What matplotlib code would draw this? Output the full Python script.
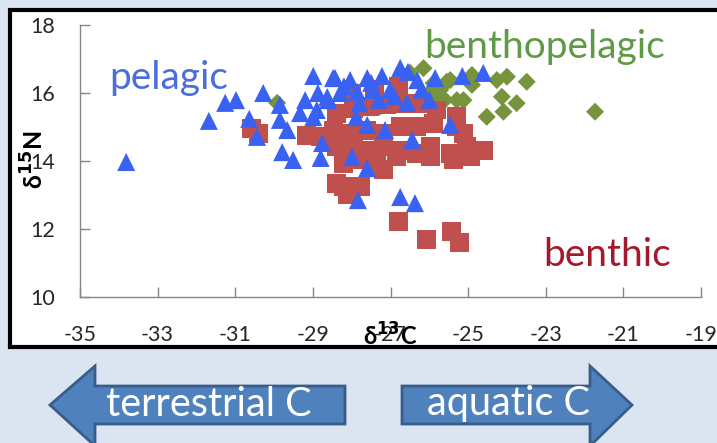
"""Stable isotope biplot: d13C vs d15N for pelagic, benthic and benthopelagic fish."""

import matplotlib

matplotlib.use("Agg")
import matplotlib.pyplot as plt
from matplotlib.patches import Polygon, Rectangle

W, H = 717, 443

# pelagic (blue triangles)
PELAGIC_X = [-33.81, -31.68, -31.26, -30.98, -30.28, -30.64, -30.44, -29.85, -29.85, -29.66,
             -29.79, -29.51, -28.99, -28.48, -29.20, -28.87, -28.61, -29.33, -28.99, -28.76,
             -28.80, -28.43, -28.04, -27.60, -27.22, -26.75, -26.55, -26.31, -25.85, -25.15,
             -24.61, -28.63, -28.30, -27.86, -27.45, -27.01, -26.57, -27.88, -27.60, -27.14,
             -26.44, -25.46, -27.99, -27.60, -27.84, -26.75, -26.37, -28.20, -27.80, -27.30,
             -26.90, -27.50, -28.90, -26.20, -26.00]
PELAGIC_Y = [13.97, 15.18, 15.71, 15.79, 16.00, 15.24, 14.71, 15.65, 15.21, 14.91,
             14.26, 14.03, 16.50, 16.44, 15.79, 16.00, 15.79, 15.41, 15.29, 14.53,
             14.09, 16.44, 16.38, 16.44, 16.50, 16.74, 16.62, 16.38, 16.44, 16.50,
             16.59, 15.88, 16.00, 16.03, 16.09, 16.09, 15.71, 15.29, 15.06, 14.91,
             14.62, 15.06, 14.12, 13.79, 12.85, 12.94, 12.76, 16.20, 15.70, 15.80,
             15.90, 16.30, 15.50, 16.10, 15.80]

# benthic (red squares)
BENTHIC_X = [-30.57, -30.40, -29.16, -28.81, -28.38, -28.38, -27.96, -27.53, -27.10, -26.67,
             -26.24, -25.81, -25.29, -28.47, -28.04, -27.61, -27.18, -26.75, -26.32, -25.89,
             -25.29, -28.38, -27.96, -27.53, -27.18, -26.75, -26.32, -25.98, -25.46, -25.03,
             -24.61, -28.21, -27.78, -27.35, -27.18, -26.84, -25.98, -25.38, -24.95, -25.12,
             -28.21, -27.78, -28.10, -26.80, -26.06, -25.42, -25.22, -28.00, -27.40, -26.80]
BENTHIC_Y = [14.96, 14.81, 14.76, 14.71, 13.35, 15.40, 15.55, 15.60, 15.65, 15.70,
             15.70, 15.50, 15.30, 14.91, 14.81, 14.91, 14.81, 15.01, 15.01, 15.11,
             15.01, 14.42, 14.42, 14.32, 14.42, 14.32, 14.23, 14.13, 14.23, 14.42,
             14.32, 13.93, 14.03, 13.93, 13.74, 14.13, 14.42, 14.03, 14.13, 14.81,
             13.24, 13.24, 13.00, 12.21, 11.68, 11.92, 11.60, 16.00, 16.10, 16.20]

# benthopelagic (green diamonds)
BENTHOPELAGIC_X = [-26.15, -25.46, -24.90, -24.26, -24.00, -23.49, -24.13, -23.75, -24.52, -24.09,
                   -25.29, -25.12, -25.81, -25.89, -24.90, -21.73, -25.72, -25.55, -26.84, -27.27,
                   -29.92, -26.50, -26.00, -25.60]
BENTHOPELAGIC_Y = [16.73, 16.38, 16.53, 16.38, 16.48, 16.33, 15.89, 15.70, 15.30, 15.45,
                   15.79, 15.79, 15.89, 16.29, 16.24, 15.45, 16.09, 16.33, 16.33, 15.60,
                   15.71, 16.60, 16.00, 15.80]

X_TICKS = [-35, -33, -31, -29, -27, -25, -23, -21, -19]
Y_TICKS = [10, 12, 14, 16, 18]

BLUE = "#3a62f2"
RED = "#c0504d"
GREEN = "#77933c"
BG = "#dbe5f1"
FONT = ["Lato", "DejaVu Sans"]


def fx(px):
    return px / W


def fy(py):
    return 1 - py / H


def main():
    plt.rcParams["font.family"] = FONT
    fig = plt.figure(figsize=(W / 100, H / 100), dpi=100, facecolor=BG)

    # white panel with the thick black frame
    fig.patches.append(Rectangle((fx(10), fy(347)), fx(720) - fx(10), fy(10) - fy(347),
                                 transform=fig.transFigure, facecolor="white",
                                 edgecolor="black", linewidth=3.0, zorder=-2))

    ax = fig.add_axes([fx(80), fy(297), fx(701) - fx(80), fy(25) - fy(297)])
    ax.set_zorder(2)
    ax.set_facecolor("none")
    ax.scatter(BENTHOPELAGIC_X, BENTHOPELAGIC_Y, marker="D", s=84, color=GREEN,
               edgecolors="none", zorder=2)
    ax.scatter(BENTHIC_X, BENTHIC_Y, marker="s", s=187, color=RED, edgecolors="none", zorder=3)
    ax.scatter(PELAGIC_X, PELAGIC_Y, marker="^", s=169, color=BLUE, edgecolors="none", zorder=4)

    ax.set_xlim(-35, -19)
    ax.set_ylim(10, 18)
    ax.set_xticks(X_TICKS)
    ax.set_yticks(Y_TICKS)
    ax.set_xticklabels([str(t) for t in X_TICKS])
    for side in ("top", "right"):
        ax.spines[side].set_visible(False)
    for side in ("left", "bottom"):
        ax.spines[side].set_color("#868686")
        ax.spines[side].set_linewidth(1.0)
    ax.tick_params(axis="both", direction="in", length=7, width=1.0, color="#868686",
                   labelsize=15.5, labelcolor="#262626")
    ax.tick_params(axis="x", pad=20)
    ax.tick_params(axis="y", pad=18)

    ax.text(-32.71, 16.44, "pelagic", color="#4a6fdc", fontsize=28, ha="center", va="center")
    ax.text(-23.02, 17.35, "benthopelagic", color="#5f9a46", fontsize=28, ha="center", va="center")
    ax.text(-21.42, 11.24, "benthic", color="#a21a2c", fontsize=28, ha="center", va="center")

    fig.text(fx(390), fy(336), "δ$^{\\mathbf{13}}$C", fontsize=17, fontweight="bold",
             ha="center", va="center", zorder=3)
    fig.text(fx(34), fy(160), "δ$^{\\mathbf{15}}$N", fontsize=18, fontweight="bold",
             ha="center", va="center", rotation=90, zorder=3)

    # direction arrows under the panel
    left = [(50, 405), (95, 366), (95, 386), (345, 386), (345, 424), (95, 424), (95, 446)]
    right = [(632, 405), (590, 366), (590, 386), (402, 386), (402, 424), (590, 424), (590, 446)]
    for pts in (left, right):
        fig.patches.append(Polygon([(fx(x), fy(y)) for x, y in pts], closed=True,
                                   transform=fig.transFigure, facecolor="#4f81bd",
                                   edgecolor="#385d8a", linewidth=2.0, zorder=-1))
    fig.text(fx(209), fy(404), "terrestrial C", color="white", fontsize=28.5,
             ha="center", va="center")
    fig.text(fx(508), fy(404), "aquatic C", color="white", fontsize=28.5,
             ha="center", va="center")

    fig.savefig("out.png", dpi=100, facecolor=BG)


if __name__ == "__main__":
    main()
